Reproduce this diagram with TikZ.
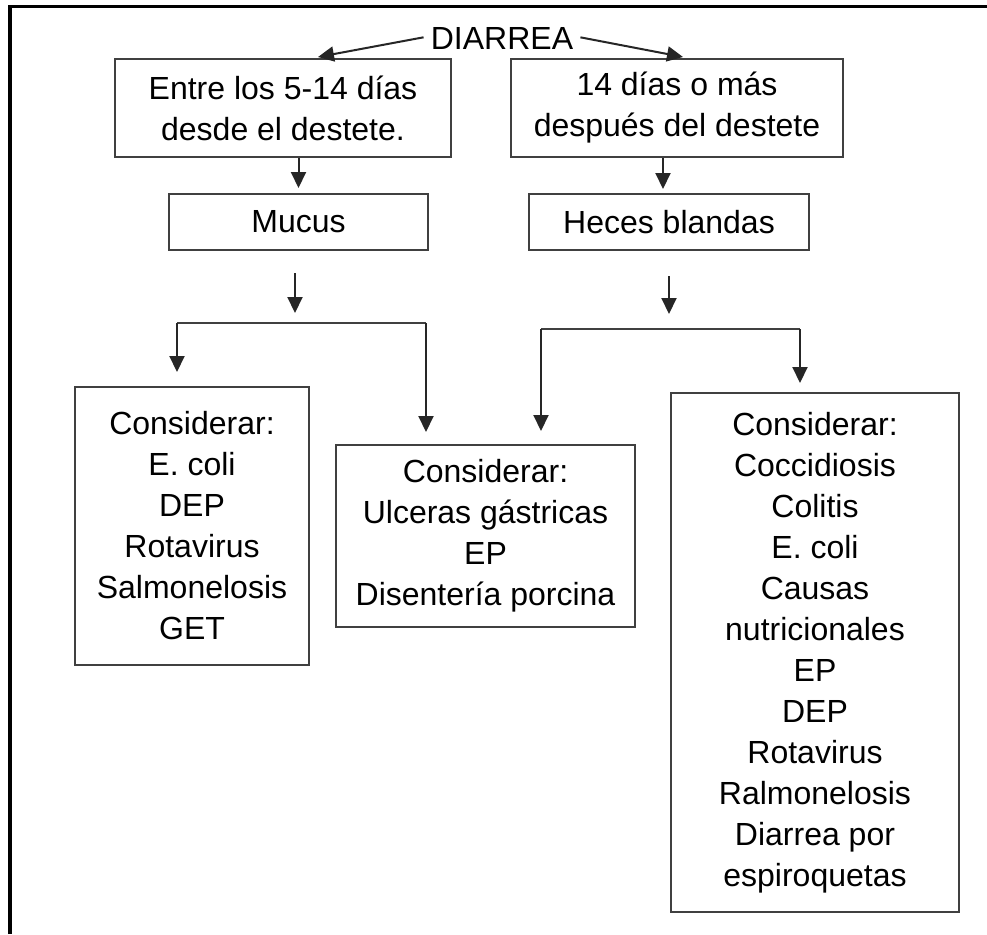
\documentclass[tikz,border=0pt]{standalone}
\usepackage{fontspec}
\setmainfont{Liberation Sans}
\usetikzlibrary{
  arrows.meta,
  positioning,
  calc
}
\tikzset{%
  arr/.style={draw=black!85, line width=1pt, -{Triangle[length=8pt, width=7.5pt]}}, % every connector
  box/.style={draw=black!75, line width=1pt, align=center, inner sep=0pt}
}

\begin{document}
\begin{tikzpicture}[x=0.5pt, y=-0.5pt, font=\fontsize{16}{20.5}\selectfont]
  \useasboundingbox (0,0) rectangle (987,934);
  % outer frame (only top and left edge visible)
  \draw[line width=1.75pt] (10,934) -- (10,6.5) -- (987,6.5);

  \node [inner sep=0pt] (dia) at (502,38) {DIARREA};
  \node [box, minimum width=168pt, minimum height=49pt] (box1) at (283,108)
    {Entre los 5-14 días\\desde el destete.};
  \node [box, minimum width=166pt, minimum height=49pt] (box2) at (677,108)
    {14 días o más\\después del destete};
  \node [box, minimum width=129.5pt, minimum height=28pt] (mucus) at (298.5,222) {Mucus};
  \node [box, minimum width=140pt, minimum height=28pt] (heces) at (669,222) {Heces blandas};

  \node [box, minimum width=117pt, minimum height=139pt] (consL) at (192,526)
    {Considerar:\\E. coli\\DEP\\Rotavirus\\Salmonelosis\\GET};
  \node [box, minimum width=149.5pt, minimum height=91pt] (consM) at (485.5,536)
    {Considerar:\\Ulceras gástricas\\EP\\Disentería porcina};
  \node [box, minimum width=144pt, minimum height=259.5pt] (consR) at (815,652.5)
    {Considerar:\\Coccidiosis\\Colitis\\E. coli\\Causas\\nutricionales\\EP\\DEP\\Rotavirus\\Ralmonelosis\\Diarrea por\\espiroquetas};

  % free ends
  \coordinate (t1) at (318,57);
  \coordinate (t2) at (683,57);
  \coordinate (barL1) at (177,323);
  \coordinate (barL2) at (426,323);
  \coordinate (barR1) at (541,329);
  \coordinate (barR2) at (800,329);

  \draw[arr, shorten <=3.5pt] ([yshift=1pt]dia.west) -- (t1);
  \draw[arr, shorten <=3.5pt] ([yshift=1pt]dia.east) -- (t2);
  \draw[arr, shorten >=2.5pt] (mucus.north |- box1.south) -- (mucus.north);
  \draw[arr, shorten >=2pt] ([xshift=-3pt]heces.north |- box2.south) -- ([xshift=-3pt]heces.north);

  % split below Mucus
  \draw[arr, shorten <=11pt, shorten >=5pt] ([xshift=-1.75pt]mucus.south) -- ([xshift=-1.75pt]mucus.south |- barL1);
  \draw[draw=black!75, line width=1pt] (barL1) -- (barL2);
  \draw[arr, shorten >=7pt] (barL1) -- (barL1 |- consL.north);
  \draw[arr, shorten >=6pt] (barL2) -- (barL2 |- consM.north);

  % split below Heces blandas
  \draw[arr, shorten <=12.5pt, shorten >=7.5pt] (heces.south) -- (heces.south |- barR1);
  \draw[draw=black!75, line width=1pt] (barR1) -- (barR2);
  \draw[arr, shorten >=6.5pt] (barR1) -- (barR1 |- consM.north);
  \draw[arr, shorten >=4.5pt] (barR2) -- (barR2 |- consR.north);
\end{tikzpicture}
\end{document}
